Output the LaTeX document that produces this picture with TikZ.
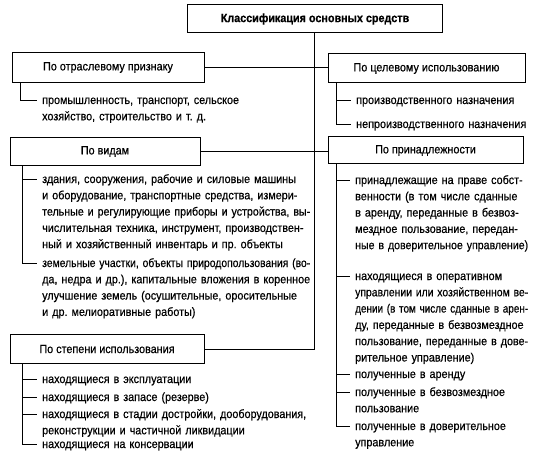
\documentclass[tikz,border=0pt]{standalone}
\usepackage{fontspec}
\setmainfont{Liberation Sans}[FakeStretch=0.9, FakeBold=0.5]
\usepackage{graphicx}
\frenchspacing
\newsavebox\lnbox
\newcommand\fl[2]{\sbox\lnbox{#2}\ifdim\wd\lnbox>#1\relax\resizebox{#1}{\ht\lnbox}{\usebox\lnbox}\else\makebox[#1][s]{#2}\fi}
\newcommand\nl[2]{\sbox\lnbox{#2}\ifdim\wd\lnbox>#1\relax\resizebox{#1}{\ht\lnbox}{\usebox\lnbox}\else\usebox\lnbox\fi}
\tikzset{
  box/.style={draw, line width=1pt, inner sep=0pt, font=\fontsize{12}{13}\selectfont},
  item/.style={anchor=base west, inner sep=0pt, align=left, font=\fontsize{12}{16.3}\selectfont},
  ln/.style={line width=0.9pt}
}
\begin{document}
\begin{tikzpicture}[x=1pt,y=-1pt]
\useasboundingbox[fill=white] (0,0) rectangle (539,460);
% boxes
\node[box, minimum width=255pt, minimum height=28pt] (T) at (315,19) {\bfseries Классификация основных средств};
\node[box, minimum width=192pt, minimum height=30pt] (B1) at (108,67.5) {По отраслевому признаку};
\node[box, minimum width=197pt, minimum height=29pt] (B2) at (426.5,68.5) {По целевому использованию};
\node[box, minimum width=190pt, minimum height=28pt] (B3) at (105,151.5) {По видам};
\node[box, minimum width=195pt, minimum height=27pt] (B4) at (425.5,150.5) {По принадлежности};
\node[box, minimum width=194pt, minimum height=29pt] (B5) at (107,349) {По степени использования};
% items B1
\node[item, text width=230pt] (o1) at (42,104) {промышленность, транспорт, сельское\\хозяйство, строительство и т.~д.};
% items B2
\node[item, text width=180pt] (c1) at (356,104) {\nl{172pt}{производственного назначения}};
\node[item, text width=180pt] (c2) at (356,128) {\nl{172pt}{непроизводственного назначения}};
% items B3
\node[item, text width=268pt] (v1) at (42,183) {\fl{268pt}{здания, сооружения, рабочие и силовые машины}\\
\fl{268pt}{и оборудование, транспортные средства, измери-}\\
\fl{268pt}{тельные и регулирующие приборы и устройства, вы-}\\
\fl{268pt}{числительная техника, инструмент, производствен-}\\
\nl{268pt}{ный и хозяйственный инвентарь и пр. объекты}};
\node[item, text width=268pt] (v2) at (42,267) {\fl{268pt}{земельные участки, объекты природопользования (во-}\\
\fl{268pt}{да, недра и др.), капитальные вложения в коренное}\\
\fl{268pt}{улучшение земель (осушительные, оросительные}\\
\nl{268pt}{и др. мелиоративные работы)}};
% items B4
\node[item, text width=173pt] (p1) at (355,184) {\fl{173pt}{принадлежащие на праве собст-}\\
\fl{173pt}{венности (в том числе сданные}\\
\fl{173pt}{в аренду, переданные в безвоз-}\\
\fl{173pt}{мездное пользование, передан-}\\
\fl{173pt}{ные в доверительное управление)}};
\node[item, text width=173pt] (p2) at (355,280) {\fl{173pt}{находящиеся в оперативном}\\
\fl{173pt}{управлении или хозяйственном ве-}\\
\fl{173pt}{дении (в том числе сданные в арен-}\\
\fl{173pt}{ду, переданные в безвозмездное}\\
\fl{173pt}{пользование, переданные в дове-}\\
\nl{173pt}{рительное управление)}};
\node[item, text width=173pt] (p3) at (355,378) {полученные в аренду};
\node[item, text width=173pt] (p4) at (355,396) {полученные в безвозмездное\\пользование};
\node[item, text width=173pt] (p5) at (355,430) {полученные в доверительное\\управление};
% items B5
\node[item, text width=264pt] (s1) at (42,383) {находящиеся в эксплуатации};
\node[item, text width=264pt] (s2) at (42,401) {находящиеся в запасе (резерве)};
\node[item, text width=264pt] (s3) at (42,418) {\fl{264pt}{находящиеся в стадии достройки, дооборудования,}\\
\nl{264pt}{реконструкции и частичной ликвидации}};
\node[item, text width=264pt] (s4) at (42,448) {находящиеся на консервации};
% trunk and connectors
\coordinate (tk) at ([xshift=-1pt]T.south);
\draw[ln] (tk) |- (B5.east);
\draw[ln] (B1.east) -- (B1.east -| B2.west);
\draw[ln] (B3.east) -- (B3.east -| B4.west);
% tick coordinates
\foreach \n in {o1,c1,c2,v1,v2,p1,p2,p3,p4,p5,s1,s2,s3,s4}
  \coordinate (\n t) at ([xshift=-5pt,yshift=4pt]\n.base west);
\coordinate (b1) at ([xshift=9pt]B1.south west);
\coordinate (b2) at ([xshift=9pt]B2.south west);
\coordinate (b3) at ([xshift=13pt]B3.south west);
\coordinate (b4) at ([xshift=9pt]B4.south west);
\coordinate (b5) at ([xshift=13pt]B5.south west);
% brackets
\draw[ln] (b1) |- (o1t);
\draw[ln] (b2) |- (c2t);
\draw[ln] (c1t -| b2) -- (c1t);
\draw[ln] (b3) |- (v2t);
\draw[ln] (v1t -| b3) -- (v1t);
\draw[ln] (b4) |- (p5t);
\foreach \n in {p1,p2,p3,p4} \draw[ln] (\n t -| b4) -- (\n t);
\draw[ln] (b5) |- (s4t);
\foreach \n in {s1,s2,s3} \draw[ln] (\n t -| b5) -- (\n t);
\end{tikzpicture}
\end{document}
